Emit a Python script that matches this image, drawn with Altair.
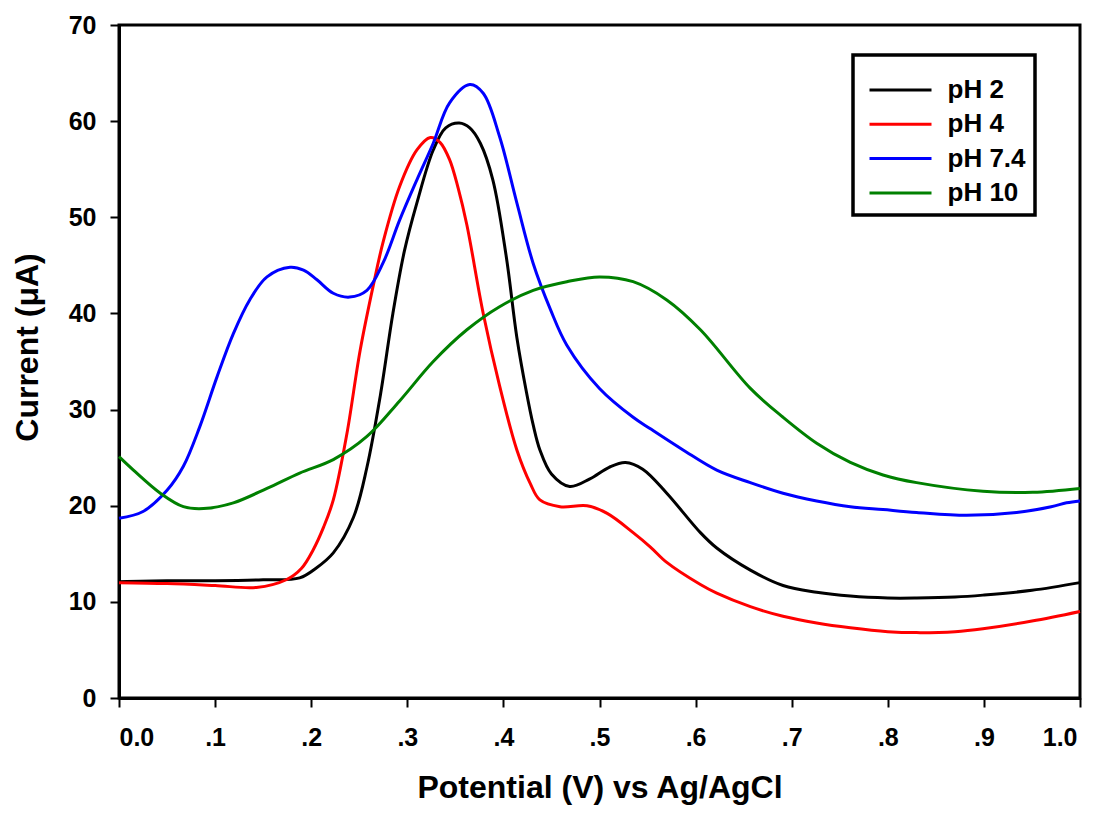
import altair as alt
import pandas as pd

# pH 2 (black)
v_ph2 = [0.00, 0.05, 0.10, 0.15, 0.188, 0.205, 0.223, 0.244, 0.258, 0.272, 0.285, 0.297, 0.310, 0.327, 0.340, 0.354, 0.365, 0.376, 0.389, 0.403, 0.414, 0.424, 0.431, 0.438, 0.450, 0.469, 0.490, 0.510, 0.527, 0.545, 0.570, 0.605, 0.622, 0.657, 0.691, 0.726, 0.761, 0.800, 0.830, 0.870, 0.899, 0.950, 1.000]
i_ph2 = [12.1, 12.2, 12.2, 12.3, 12.5, 13.5, 15.1, 18.8, 24.0, 31.5, 40.0, 46.5, 51.5, 57.0, 59.3, 59.8, 59.3, 57.7, 53.9, 45.9, 37.5, 31.8, 28.4, 25.8, 23.3, 22.0, 22.8, 24.0, 24.5, 23.8, 21.3, 17.2, 15.6, 13.3, 11.7, 11.0, 10.6, 10.4, 10.4, 10.5, 10.7, 11.2, 12.0]

# pH 4 (red)
v_ph4 = [0.00, 0.05, 0.10, 0.143, 0.174, 0.190, 0.202, 0.213, 0.223, 0.237, 0.251, 0.265, 0.275, 0.292, 0.310, 0.324, 0.334, 0.344, 0.353, 0.362, 0.379, 0.396, 0.414, 0.428, 0.438, 0.459, 0.487, 0.508, 0.535, 0.553, 0.570, 0.605, 0.622, 0.657, 0.691, 0.726, 0.761, 0.800, 0.830, 0.870, 0.899, 0.950, 1.000]
i_ph4 = [12.0, 11.9, 11.7, 11.5, 12.3, 13.5, 15.4, 17.8, 20.6, 27.4, 36.2, 43.1, 47.5, 53.2, 57.0, 58.3, 57.8, 56.0, 53.0, 49.2, 40.0, 32.5, 25.8, 22.3, 20.6, 19.9, 20.0, 19.2, 17.2, 15.7, 14.1, 11.8, 10.9, 9.5, 8.5, 7.8, 7.3, 6.9, 6.8, 6.9, 7.2, 8.0, 9.0]

# pH 7.4 (blue)
v_ph74 = [0.00, 0.025, 0.050, 0.067, 0.084, 0.102, 0.119, 0.136, 0.154, 0.178, 0.192, 0.206, 0.223, 0.240, 0.258, 0.275, 0.292, 0.310, 0.327, 0.344, 0.365, 0.379, 0.396, 0.414, 0.431, 0.449, 0.466, 0.500, 0.535, 0.553, 0.587, 0.622, 0.657, 0.691, 0.726, 0.761, 0.795, 0.830, 0.882, 0.934, 0.970, 0.986, 1.000]
i_ph74 = [18.7, 19.4, 21.6, 24.1, 28.2, 33.4, 37.9, 41.4, 43.8, 44.8, 44.5, 43.5, 42.1, 41.7, 42.4, 45.3, 49.7, 53.9, 57.7, 61.9, 63.8, 62.9, 58.4, 51.5, 45.2, 40.4, 36.7, 32.2, 29.2, 28.0, 25.8, 23.7, 22.4, 21.3, 20.5, 19.9, 19.6, 19.3, 19.0, 19.3, 19.9, 20.3, 20.5]

# pH 10 (green)
v_ph10 = [0.00, 0.015, 0.043, 0.067, 0.088, 0.119, 0.154, 0.188, 0.223, 0.258, 0.292, 0.327, 0.362, 0.396, 0.431, 0.466, 0.500, 0.535, 0.570, 0.605, 0.657, 0.691, 0.726, 0.761, 0.795, 0.830, 0.899, 0.951, 1.000]
i_ph10 = [25.1, 23.7, 21.3, 19.9, 19.7, 20.3, 21.8, 23.4, 24.8, 27.2, 30.9, 35.0, 38.3, 40.7, 42.4, 43.3, 43.8, 43.3, 41.4, 38.3, 32.2, 29.2, 26.5, 24.5, 23.2, 22.4, 21.5, 21.4, 21.8]

series_names = ["pH 2", "pH 4", "pH 7.4", "pH 10"]
series_colors = ["#000000", "#FF0000", "#0000FF", "#008000"]

rows = []
for name, vs, cs in zip(series_names, [v_ph2, v_ph4, v_ph74, v_ph10], [i_ph2, i_ph4, i_ph74, i_ph10]):
    for k, (a, b) in enumerate(zip(vs, cs)):
        rows.append({"series": name, "V": a, "I": b, "order": k})
df = pd.DataFrame(rows)

FONT = "Liberation Sans"

chart = alt.Chart(df).mark_line(strokeWidth=3, interpolate="catmull-rom").encode(
    x=alt.X("V:Q", scale=alt.Scale(domain=[0, 1], nice=False),
            axis=alt.Axis(title="Potential (V) vs Ag/AgCl", values=[0, 0.1, 0.2, 0.3, 0.4, 0.5, 0.6, 0.7, 0.8, 0.9, 1.0],
                          labelExpr="datum.value > 0.001 && datum.value < 0.999 ? replace(format(datum.value, '.1f'), '0.', '.') : format(datum.value, '.1f')",
                          labelOffset={"condition": {"test": "datum.value > 0.999", "value": -3}, "value": 0},
                          titleY=99, titleBaseline="alphabetic", labelPadding=18)),
    y=alt.Y("I:Q", scale=alt.Scale(domain=[0, 70], nice=False),
            axis=alt.Axis(title="Current (μA)", values=[0, 10, 20, 30, 40, 50, 60, 70],
                          titleX=-82, titleY=322, titleAngle=-90, titleAlign="center",
                          titleBaseline="alphabetic", labelPadding=14)),
    color=alt.Color("series:N", scale=alt.Scale(domain=series_names, range=series_colors),
                    legend=alt.Legend(title=" ", orient="none", legendX=734, legendY=30,
                                      labelExpr="datum.label + '\u00a0\u2009'")),
    order="order:Q",
).properties(
    width=961, height=673,
    autosize=alt.AutoSizeParams(type="none"),
    padding={"left": 111, "top": 17, "right": 14, "bottom": 108},
).configure_view(
    stroke="black", strokeWidth=3
).configure_axis(
    grid=False, domainColor="black", domainWidth=3, tickColor="black", tickWidth=2, tickSize=9,
    labelFont=FONT, labelFontSize=25, labelFontWeight="bold", labelColor="black",
    titleFont=FONT, titleFontSize=32, titleFontWeight="bold", titleColor="black",
).configure_legend(
    strokeColor="black", strokeWidth=3.5, fillColor="white", padding=9,
    symbolType="M-6.2,0H6.2", symbolSize=100, symbolStrokeWidth=3, symbolOffset=25.5,
    labelFont=FONT, labelFontSize=26, labelFontWeight="bold", labelColor="black", labelOffset=34,
    rowPadding=8.3, titleFontSize=8, titlePadding=5, titleFont=FONT,
)

chart.save("out.html", embed_options={"renderer": "svg", "actions": False})
